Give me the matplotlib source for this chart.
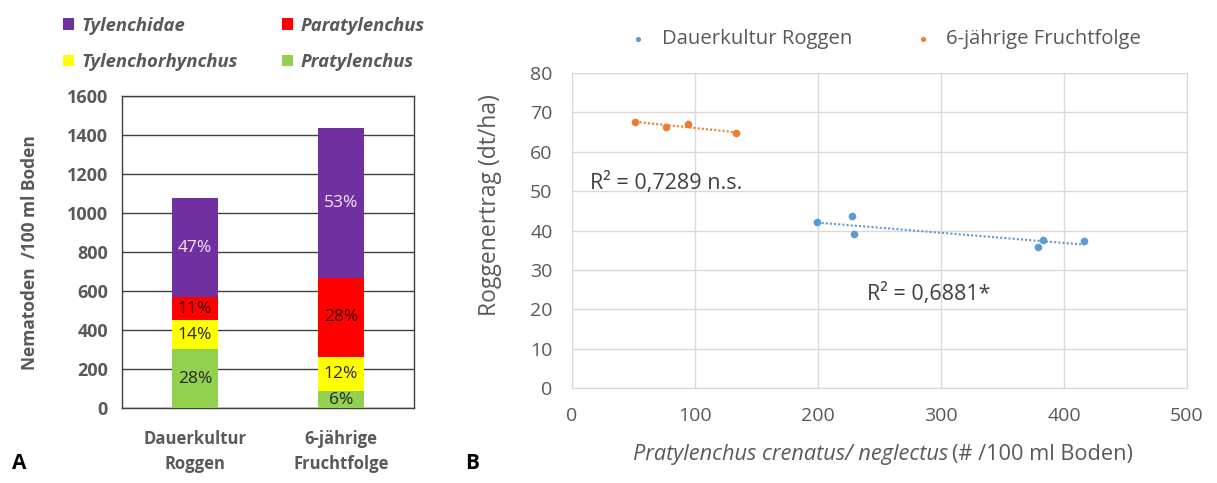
import numpy as np
import matplotlib
matplotlib.use('Agg')
import matplotlib.pyplot as plt

# ---- data panel A (stacked bars) ----
categories = ['Dauerkultur\nRoggen', '6-jährige\nFruchtfolge']
pratylenchus = [303, 87]
tylenchorhynchus = [148, 176]
paratylenchus = [118, 404]
tylenchidae = [508, 770]
pct_pratylenchus = ['28%', '6%']
pct_tylenchorhynchus = ['14%', '12%']
pct_paratylenchus = ['11%', '28%']
pct_tylenchidae = ['47%', '53%']

# ---- data panel B (scatter) ----
dauer_x = [199.6, 227.5, 229.0, 378.7, 383.3, 416.0]
dauer_y = [42.1, 43.6, 39.1, 35.8, 37.7, 37.4]
frucht_x = [51.6, 76.5, 94.3, 133.5]
frucht_y = [67.6, 66.2, 67.1, 64.7]

gray = '#595959'
font = 'Open Sans'

fig = plt.figure(figsize=(12.17, 4.83), dpi=100)

# ---------------- panel A ----------------
axA = fig.add_axes([0.1002, 0.155, 0.240, 0.646])
x = np.arange(len(categories))
w = 0.315
stacks = [
    (pratylenchus, '#92D050', pct_pratylenchus, '#262626'),
    (tylenchorhynchus, '#FFFF00', pct_tylenchorhynchus, '#262626'),
    (paratylenchus, '#FF0000', pct_paratylenchus, '#3a0000'),
    (tylenchidae, '#7030A0', pct_tylenchidae, '#f2e6ff'),
]
bottom = np.zeros(len(categories))
bars = {}
for vals, col, pcts, tcol in stacks:
    vals = np.array(vals, dtype=float)
    b = axA.bar(x, vals, w, bottom=bottom, color=col, zorder=3)
    bars[col] = b
    for xi, bi, vi, p in zip(x, bottom, vals, pcts):
        axA.text(xi, bi + vi / 2, p, ha='center', va='center', fontsize=12.5,
                 color=tcol, family=font, zorder=4)
    bottom += vals

axA.set_xlim(-0.5, 1.5)
axA.set_ylim(0, 1600)
axA.set_yticks(range(0, 1601, 200))
axA.yaxis.grid(True, color='#404040', linewidth=1.0, zorder=0)
axA.set_axisbelow(True)
for s in axA.spines.values():
    s.set_color('#404040')
    s.set_linewidth(1.0)
axA.tick_params(length=0, pad=10)
axA.set_xticks(x)
axA.set_xticklabels(categories, fontsize=12, fontweight='bold', color=gray,
                    family=font, linespacing=1.5)
axA.tick_params(axis='x', pad=16)
for lab in axA.get_yticklabels():
    lab.set_fontsize(13)
    lab.set_fontweight('bold')
    lab.set_color(gray)
    lab.set_family(font)
axA.set_ylabel('Nematoden  /100 ml Boden', fontsize=12.5, fontweight='bold',
               color=gray, family=font)
axA.yaxis.set_label_coords(-0.285, 0.5)

# legend filled column-wise: col 1 = Tylenchidae, Tylenchorhynchus
handles = [bars['#7030A0'], bars['#FFFF00'], bars['#FF0000'], bars['#92D050']]
labels = ['Tylenchidae', 'Tylenchorhynchus', 'Paratylenchus', 'Pratylenchus']
legA = fig.legend(handles, labels, ncol=2, loc='upper left', bbox_to_anchor=(0.038, 1.0),
                  frameon=False, handlelength=0.6, handleheight=0.6, handletextpad=0.4,
                  columnspacing=2.4, labelspacing=1.0,
                  prop={'family': font, 'style': 'italic', 'weight': 'bold', 'size': 13.3})
for t in legA.get_texts():
    t.set_color(gray)

fig.text(0.010, 0.03, 'A', fontsize=15, fontweight='bold', family=font)

# ---------------- panel B ----------------
axB = fig.add_axes([0.470, 0.1967, 0.5053, 0.652])
c_blue = '#5B9BD5'
c_orange = '#ED7D31'
axB.scatter(dauer_x, dauer_y, s=20, color=c_blue, zorder=3, label='Dauerkultur Roggen')
axB.scatter(frucht_x, frucht_y, s=20, color=c_orange, zorder=3, label='6-jährige Fruchtfolge')

for xs, ys, col in [(dauer_x, dauer_y, c_blue), (frucht_x, frucht_y, c_orange)]:
    k, d = np.polyfit(xs, ys, 1)
    xx = np.array([min(xs), max(xs)])
    axB.plot(xx, k * xx + d, linestyle=(0, (1, 1)), color=col, linewidth=1.5, zorder=2)

axB.set_xlim(0, 500)
axB.set_ylim(0, 80)
axB.set_xticks(range(0, 501, 100))
axB.set_yticks(range(0, 81, 10))
axB.grid(True, color='#d9d9d9', linewidth=1.0, zorder=0)
axB.set_axisbelow(True)
for s in axB.spines.values():
    s.set_color('#d9d9d9')
axB.tick_params(length=0, labelsize=14, labelcolor=gray)
axB.tick_params(axis='x', pad=14)
axB.tick_params(axis='y', pad=14)
for lab in axB.get_xticklabels() + axB.get_yticklabels():
    lab.set_family(font)

axB.set_ylabel('Roggenertrag (dt/ha)', fontsize=16.5, color=gray, family=font)
axB.yaxis.set_label_coords(-0.114, 0.581)

axB.text(14.8, 52.2, 'R² = 0,7289 n.s.', fontsize=15.5, color='#404040', family=font,
         va='center', ha='left')
axB.text(240, 24.0, 'R² = 0,6881*', fontsize=15.5, color='#404040', family=font,
         va='center', ha='left')

legB = axB.legend(loc='center', bbox_to_anchor=(0.5, 1.108), ncol=2, frameon=False,
                  handletextpad=0.15, columnspacing=2.5, markerscale=0.6,
                  prop={'family': font, 'size': 14.6})
for t in legB.get_texts():
    t.set_color(gray)

# x label: italic species name + regular unit
fig.text(0.7795, 0.059, 'Pratylenchus crenatus/ neglectus', fontsize=15.7, style='italic',
         color=gray, family=font, ha='right', va='center')
fig.text(0.7825, 0.059, '(# /100 ml Boden)', fontsize=15.7, color=gray, family=font,
         ha='left', va='center')

fig.text(0.382, 0.03, 'B', fontsize=15, fontweight='bold', family=font)

fig.savefig('out.png', dpi=100)
